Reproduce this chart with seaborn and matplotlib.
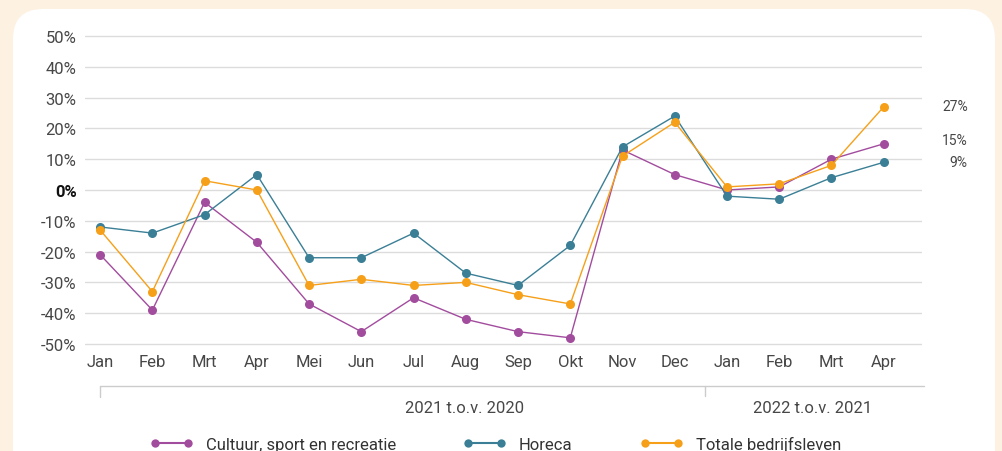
import matplotlib
matplotlib.use("Agg")
import matplotlib.pyplot as plt
import matplotlib.transforms as mtransforms
from matplotlib.patches import FancyBboxPatch
from matplotlib.lines import Line2D
import seaborn as sns
import pandas as pd

months = ["Jan", "Feb", "Mrt", "Apr", "Mei", "Jun", "Jul", "Aug", "Sep", "Okt",
          "Nov", "Dec", "Jan", "Feb", "Mrt", "Apr"]
cultuur = [-21, -39, -4, -17, -37, -46, -35, -42, -46, -48, 13, 5, 0, 1, 10, 15]
horeca = [-12, -14, -8, 5, -22, -22, -14, -27, -31, -18, 14, 24, -2, -3, 4, 9]
totaal = [-13, -33, 3, 0, -31, -29, -31, -30, -34, -37, 11, 22, 1, 2, 8, 27]
series_names = ["Cultuur, sport en recreatie", "Horeca", "Totale bedrijfsleven"]
colors = ["#a24c9e", "#3a7f96", "#f6a01a"]
yticks = [-50, -40, -30, -20, -10, 0, 10, 20, 30, 40, 50]
groups = ["2021 t.o.v. 2020", "2022 t.o.v. 2021"]

rows = []
for name, vals in zip(series_names, [cultuur, horeca, totaal]):
    for i, v in enumerate(vals):
        rows.append({"pos": i, "value": v, "serie": name})
df = pd.DataFrame(rows)

sns.set_style("white")
plt.rcParams["font.family"] = ["Roboto", "DejaVu Sans"]

fig = plt.figure(figsize=(10.02, 4.52), dpi=100)
fig.patch.set_facecolor("#fdf1e2")

panel = FancyBboxPatch((13 / 1002, -0.2), 982 / 1002, 1.2 - 10 / 452,
                       boxstyle="round,pad=0,rounding_size=0.03",
                       transform=fig.transFigure, facecolor="white",
                       edgecolor="none", mutation_aspect=1002 / 452, zorder=-10)
fig.patches.append(panel)

ax = fig.add_axes([0.0848, 0.2334, 0.8352, 0.6881])
ax.set_facecolor("none")

sns.lineplot(data=df, x="pos", y="value", hue="serie", palette=colors,
             marker="o", markersize=6.5, markeredgewidth=0, linewidth=1.0,
             ax=ax, legend=False)

for c in ax.lines:
    c.set_clip_on(False)

ax.set_xlim(-0.29, 15.73)
ax.set_ylim(-50.5, 50.5)
ax.set_yticks(yticks)
ax.set_yticklabels([f"{t}%" for t in yticks], fontsize=12, color="#474747")
for lab, t in zip(ax.get_yticklabels(), yticks):
    if t == 0:
        lab.set_fontweight("bold")
        lab.set_color("#111111")
ax.set_xticks(range(len(months)))
ax.set_xticklabels(months, fontsize=12, color="#474747")
ax.tick_params(axis="both", length=0, pad=6)
ax.set_xlabel("")
ax.set_ylabel("")
ax.grid(axis="y", color="#dcdcdc", linewidth=1.0)
ax.set_axisbelow(True)
for s in ax.spines.values():
    s.set_visible(False)

# end labels, right aligned next to the plot
xl = 16.61
ax.text(xl, totaal[-1] + 0.3, f"{totaal[-1]}%", fontsize=10, color="#474747",
        ha="right", va="center")
ax.text(xl, cultuur[-1] + 1.2, f"{cultuur[-1]}%", fontsize=10, color="#474747",
        ha="right", va="center")
ax.text(xl, horeca[-1] + 0.1, f"{horeca[-1]}%", fontsize=10, color="#474747",
        ha="right", va="center")

# group bracket below axis
trans = mtransforms.blended_transform_factory(ax.transData, ax.transAxes)
yb = -0.13
ax.plot([0, 15.77], [yb, yb], transform=trans, color="#cccccc", lw=1, clip_on=False)
ax.plot([0, 0], [yb, yb - 0.035], transform=trans, color="#cccccc", lw=1, clip_on=False)
ax.plot([11.58, 11.58], [yb, yb - 0.032], transform=trans, color="#cccccc", lw=1, clip_on=False)
ax.text(6.98, yb - 0.07, groups[0], transform=trans, fontsize=12, color="#474747",
        ha="center", va="center")
ax.text(13.64, yb - 0.07, groups[1], transform=trans, fontsize=12, color="#474747",
        ha="center", va="center")

# legend, one entry at a time
leg_x = [150 / 1002, 463 / 1002, 640 / 1002]
for name, c, lx in zip(series_names, colors, leg_x):
    h = Line2D([0], [0], color=c, lw=1.5, marker="o", markersize=6, markeredgewidth=0)
    leg = fig.legend([h], [name], loc="center left", bbox_to_anchor=(lx, 0.015),
                     frameon=False, fontsize=12, numpoints=2, handlelength=2.6,
                     handletextpad=0.75, borderpad=0, borderaxespad=0)
    for t in leg.get_texts():
        t.set_color("#333333")

fig.savefig("out.png", dpi=100, facecolor=fig.get_facecolor())
